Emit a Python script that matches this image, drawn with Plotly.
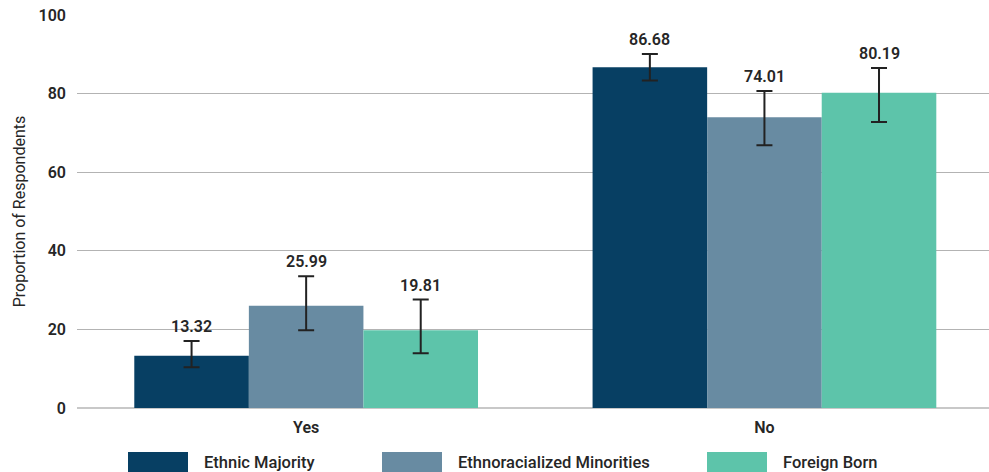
import plotly.graph_objects as go

# Survey response categories and respondent groups
categories = ["Yes", "No"]
groups = ["Ethnic Majority", "Ethnoracialized Minorities", "Foreign Born"]
colors = ["#073f63", "#688ba2", "#5dc4aa"]

# Proportions (%) per group, ordered as categories
ethnic_majority = [13.32, 86.68]
ethnoracialized = [25.99, 74.01]
foreign_born = [19.81, 80.19]

# Confidence interval bounds per group
ethnic_majority_low = [10.35, 83.35]
ethnic_majority_high = [17.08, 90.06]
ethnoracialized_low = [19.78, 66.86]
ethnoracialized_high = [33.55, 80.63]
foreign_born_low = [13.92, 72.80]
foreign_born_high = [27.60, 86.49]

values = [ethnic_majority, ethnoracialized, foreign_born]
lows = [ethnic_majority_low, ethnoracialized_low, foreign_born_low]
highs = [ethnic_majority_high, ethnoracialized_high, foreign_born_high]

FONT = "Roboto"
DARK = "#262626"
bar_w = 0.25
offsets = [-bar_w, 0.0, bar_w]

W, H = 989, 472
M_L, M_R, M_T, M_B = 77, 0, 15, 64
plot_w = W - M_L - M_R
plot_h = H - M_T - M_B

fig = go.Figure()
annotations = []
for g, name in enumerate(groups):
    xs = [i + offsets[g] for i in range(len(categories))]
    v = values[g]
    fig.add_trace(go.Bar(
        x=xs, y=v, width=bar_w, name=name,
        marker=dict(color=colors[g], line=dict(width=0)),
        error_y=dict(
            type="data", symmetric=False,
            array=[h - y for h, y in zip(highs[g], v)],
            arrayminus=[y - lo for lo, y in zip(lows[g], v)],
            color="#222222", thickness=2, width=8,
        ),
        showlegend=False,
    ))
    for x, y, h in zip(xs, v, highs[g]):
        annotations.append(dict(
            x=x, y=h, xref="x", yref="y", text=f"{y:.2f}",
            showarrow=False, yanchor="bottom", yshift=3,
            font=dict(family=FONT, size=16, color=DARK, weight=600),
        ))

# Legend drawn below the plot with wide colour swatches (pixel positions in the page)
legend_px = [128, 382, 707]
swatch_w = 60
for g, name in enumerate(groups):
    x0 = (legend_px[g] - M_L) / plot_w
    fig.add_shape(
        type="rect", xref="paper", yref="paper",
        x0=x0, x1=x0 + swatch_w / plot_w,
        y0=(plot_h + M_T - 475) / plot_h, y1=(plot_h + M_T - 452) / plot_h,
        fillcolor=colors[g], line=dict(width=0), layer="above",
    )
    annotations.append(dict(
        x=x0 + 74 / plot_w, y=(plot_h + M_T - 462) / plot_h,
        xref="paper", yref="paper",
        text=name, showarrow=False, xanchor="left", yanchor="middle",
        font=dict(family=FONT, size=16.5, color=DARK, weight=500),
    ))

fig.update_layout(
    width=W, height=H,
    margin=dict(l=M_L, r=M_R, t=M_T, b=M_B),
    plot_bgcolor="white", paper_bgcolor="white",
    barmode="overlay",
    annotations=annotations,
    xaxis=dict(
        range=[-0.5, 1.49],
        tickmode="array", tickvals=list(range(len(categories))), ticktext=categories,
        showgrid=False, zeroline=False, showline=False, ticks="",
        ticklabelstandoff=8,
        tickfont=dict(family=FONT, size=16, color=DARK, weight=600),
    ),
    yaxis=dict(
        range=[0, 100], dtick=20,
        showgrid=True, gridcolor="#b3b3b3", gridwidth=1,
        zeroline=True, zerolinecolor="#c8c8c8", zerolinewidth=2,
        ticks="", ticklabelstandoff=10,
        tickfont=dict(family=FONT, size=16, color=DARK, weight=600),
        title=dict(text="Proportion of Respondents", standoff=8,
                   font=dict(family=FONT, size=16, color=DARK)),
    ),
)

fig.write_html("out.html")
